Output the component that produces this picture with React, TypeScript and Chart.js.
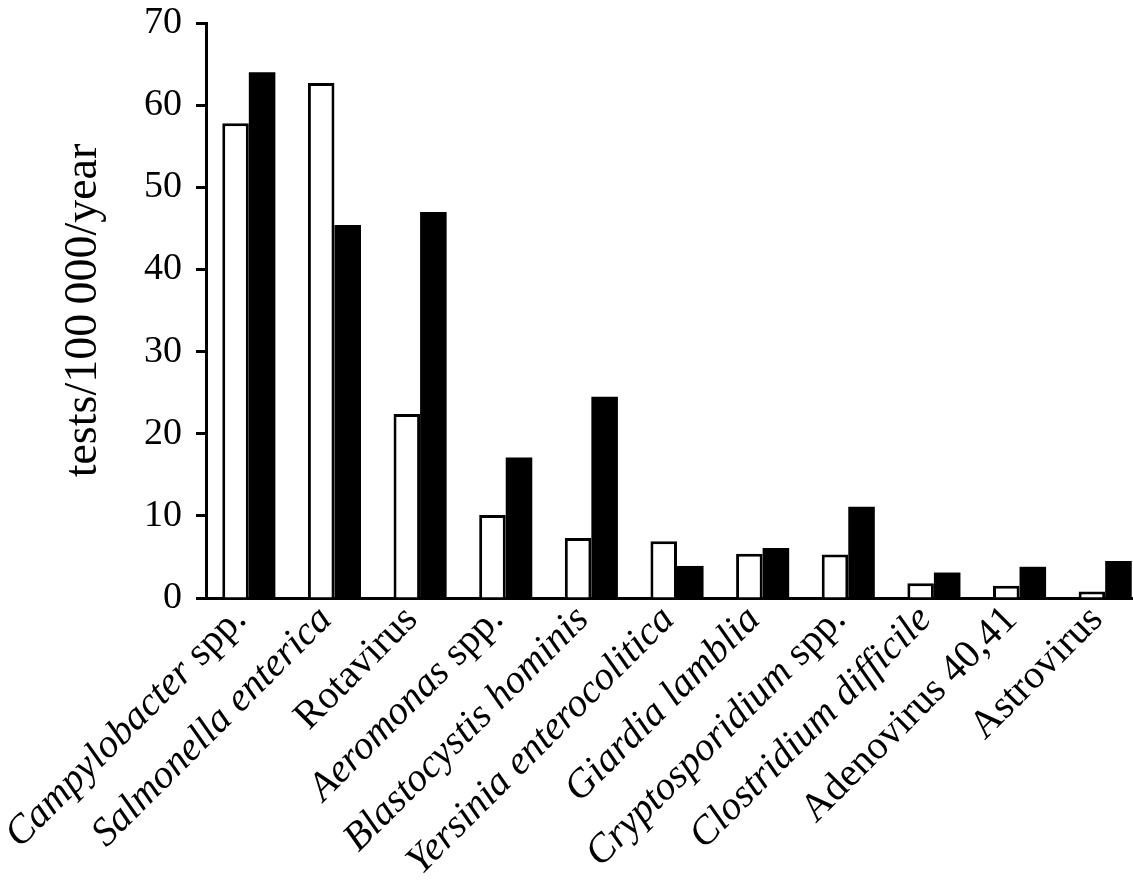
import React, { useEffect, useRef } from "react";
import { Chart, registerables } from "chart.js";

Chart.register(...registerables);

const categories = [
  "Campylobacter spp.",
  "Salmonella enterica",
  "Rotavirus",
  "Aeromonas spp.",
  "Blastocystis hominis",
  "Yersinia enterocolitica",
  "Giardia lamblia",
  "Cryptosporidium spp.",
  "Clostridium difficile",
  "Adenovirus 40,41",
  "Astrovirus",
];

// italic (genus/species) part of each label; the rest is upright
const italicParts = [
  "Campylobacter",
  "Salmonella enterica",
  "",
  "Aeromonas",
  "Blastocystis hominis",
  "Yersinia enterocolitica",
  "Giardia lamblia",
  "Cryptosporidium",
  "Clostridium difficile",
  "",
  "",
];

const seriesWhite = [57.8, 62.7, 22.4, 10.1, 7.3, 6.9, 5.4, 5.3, 1.8, 1.5, 0.8];
const seriesBlack = [64.0, 45.4, 47.0, 17.1, 24.5, 3.9, 6.1, 11.1, 3.1, 3.8, 4.5];

const yMin = 0;
const yMax = 70;
const yStep = 10;
const yTitle = "tests/100\u2009000/year";

const FONT = '"Liberation Serif", "Times New Roman", Times, serif';
const LABEL_SIZE = 40;

const mixedLabelPlugin = {
  id: "mixedLabels",
  afterDraw(chart: any) {
    const xs = chart.scales.x;
    const ctx = chart.ctx as CanvasRenderingContext2D;
    const fi = `italic ${LABEL_SIZE}px ${FONT}`;
    const fn = `${LABEL_SIZE}px ${FONT}`;
    categories.forEach((cat, i) => {
      const it = italicParts[i];
      const rest = cat.slice(it.length);
      const x = xs.getPixelForValue(i) - 1;
      const y = xs.top + 23;
      ctx.save();
      ctx.translate(x, y);
      ctx.rotate(-Math.PI / 4);
      ctx.textBaseline = "alphabetic";
      ctx.textAlign = "left";
      ctx.fillStyle = "#000";
      ctx.font = fi;
      const wi = ctx.measureText(it).width;
      ctx.font = fn;
      const wn = ctx.measureText(rest).width;
      let cx = -(wi + wn);
      ctx.font = fi;
      ctx.fillText(it, cx, 0);
      cx += wi;
      ctx.font = fn;
      ctx.fillText(rest, cx, 0);
      ctx.restore();
    });
  },
};

export default function App() {
  const ref = useRef<HTMLCanvasElement>(null);

  useEffect(() => {
    if (!ref.current) return;
    const chart = new Chart(ref.current, {
      type: "bar",
      data: {
        labels: categories,
        datasets: [
          {
            label: "white",
            data: seriesWhite,
            backgroundColor: "#ffffff",
            borderColor: "#000000",
            borderWidth: 3,
            borderSkipped: "start",
          },
          {
            label: "black",
            data: seriesBlack,
            backgroundColor: "#000000",
            borderWidth: 0,
          },
        ],
      },
      options: {
        responsive: false,
        animation: false,
        devicePixelRatio: 1,
        layout: { padding: { top: 23, right: 2, left: 0, bottom: 0 } },
        datasets: { bar: { barPercentage: 1, categoryPercentage: 0.62 } },
        plugins: {
          legend: { display: false },
          tooltip: { enabled: false },
        },
        scales: {
          x: {
            type: "category",
            grid: { display: false },
            border: { display: true, color: "#000", width: 3 },
            ticks: { display: false },
            afterFit: (s: any) => {
              s.height = 293;
            },
          },
          y: {
            min: yMin,
            max: yMax,
            ticks: {
              stepSize: yStep,
              color: "#000",
              padding: 14,
              font: { family: FONT, size: 38 },
            },
            grid: {
              display: true,
              drawOnChartArea: false,
              drawTicks: true,
              tickLength: 10,
              tickWidth: 3,
              tickColor: "#000",
            },
            border: { display: true, color: "#000", width: 3 },
            title: {
              display: true,
              text: yTitle,
              color: "#000",
              font: { family: FONT, size: 46 },
              padding: { top: 56, bottom: 0 },
            },
            afterFit: (s: any) => {
              s.width = 206;
              s.paddingTop = 0;
              s.paddingBottom = 0;
            },
          },
        },
      },
      plugins: [mixedLabelPlugin],
    });
    return () => chart.destroy();
  }, []);

  return (
    <div
      style={{
        position: "absolute",
        left: 0,
        top: 0,
        width: 1133,
        height: 891,
        overflow: "hidden",
        background: "#fff",
      }}
    >
      <canvas ref={ref} width={1150} height={891} style={{ display: "block" }} />
    </div>
  );
}
